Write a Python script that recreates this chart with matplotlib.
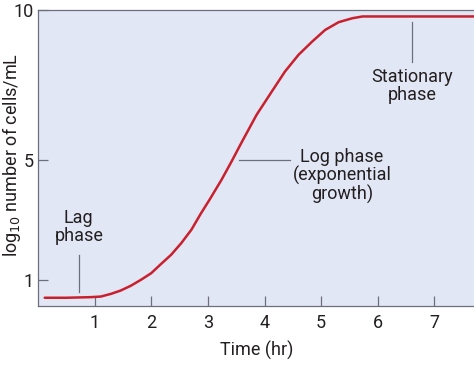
import matplotlib.pyplot as plt

# Growth curve
time_hr = [0.12, 0.5, 0.93, 1.11, 1.29, 1.46, 1.64, 1.82, 2.00, 2.17, 2.35,
           2.53, 2.71, 2.88, 3.03, 3.24, 3.42, 3.59, 3.86, 4.13, 4.36, 4.60,
           4.84, 5.07, 5.31, 5.55, 5.73, 6.0, 7.74]
log_cells = [0.40, 0.40, 0.42, 0.44, 0.53, 0.64, 0.80, 1.00, 1.22, 1.52, 1.83,
             2.22, 2.67, 3.22, 3.67, 4.33, 4.95, 5.56, 6.50, 7.28, 7.94, 8.50,
             8.94, 9.33, 9.59, 9.72, 9.78, 9.78, 9.78]

xticks = [1, 2, 3, 4, 5, 6, 7]
yticks = [1, 5, 10]

bg = '#e2e7f5'
red = '#c9202e'
grey = '#6b6f7e'
txt = '#231f20'

plt.rcParams['font.family'] = ['Roboto', 'DejaVu Sans']

fig = plt.figure(figsize=(4.74, 3.79), dpi=100)
ax = fig.add_axes([0.080, 0.193, 0.925, 0.781])
ax.set_facecolor(bg)

ax.plot(time_hr, log_cells, color=red, linewidth=1.8, solid_capstyle='round')

ax.set_xlim(0, 7.74)
ax.set_ylim(0.13, 10)
ax.set_xticks(xticks)
ax.set_yticks(yticks)
ax.tick_params(direction='in', length=7, width=0.9, color=grey,
               labelsize=13, labelcolor=txt, pad=6)
ax.tick_params(axis='y', pad=3)
for s in ['left', 'bottom', 'top']:
    ax.spines[s].set_color(grey)
    ax.spines[s].set_linewidth(0.9)
ax.spines['right'].set_visible(False)

ax.set_xlabel('Time (hr)', fontsize=13, color=txt, labelpad=6)
fig.text(12 / 474, 1 - 155 / 379, 'log$_{10}$ number of cells/mL', rotation=90,
         ha='center', va='center', fontsize=13, color=txt)

# Annotations
ax.plot([0.72, 0.72], [0.6, 1.83], color=grey, linewidth=0.9)
ax.text(0.72, 2.15, 'Lag\nphase', ha='center', va='bottom', fontsize=13,
        color=txt, linespacing=1.0)

ax.plot([3.55, 4.45], [5.0, 5.0], color=grey, linewidth=0.9)
ax.text(5.37, 5.4, 'Log phase\n(exponential\ngrowth)', ha='center', va='top',
        fontsize=13, color=txt, linespacing=1.0)

ax.plot([6.61, 6.61], [9.6, 8.27], color=grey, linewidth=0.9)
ax.text(6.61, 8.05, 'Stationary\nphase', ha='center', va='top', fontsize=13,
        color=txt, linespacing=1.0)

fig.savefig('out.png', dpi=100)
